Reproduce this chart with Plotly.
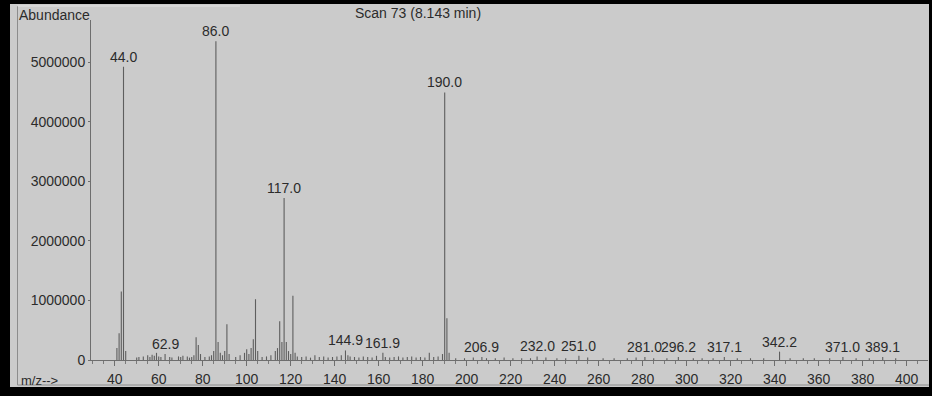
import plotly.graph_objects as go

# ---- data ----
labeled_mz = [44.0, 62.9, 86.0, 117.0, 144.9, 161.9, 190.0, 206.9, 232.0, 251.0,
              281.0, 296.2, 317.1, 342.2, 371.0, 389.1]
labeled_abund = [4920000, 100000, 5350000, 2720000, 160000, 120000, 4490000, 50000, 60000, 70000,
                 50000, 50000, 50000, 140000, 50000, 50000]
labeled_text = ["44.0", "62.9", "86.0", "117.0", "144.9", "161.9", "190.0", "206.9", "232.0", "251.0",
                "281.0", "296.2", "317.1", "342.2", "371.0", "389.1"]

minor_mz = [41, 42, 43, 45, 50, 51, 53, 55, 56, 57, 58, 59, 60, 61, 65, 66, 69, 70, 71, 73, 74, 75, 76,
            77, 78, 79, 81, 83, 84, 85, 87, 88, 89, 90, 91, 92, 95, 97, 99, 100, 101, 102, 103, 104,
            105, 107, 109, 111, 113, 114, 115, 116, 118, 119, 120, 121, 122, 123, 125, 127, 129, 131,
            133, 135, 137, 139, 141, 143, 146, 147, 149, 151, 153, 155, 157, 159, 163, 165, 167, 169,
            171, 173, 175, 177, 179, 181, 183, 185, 187, 189, 191, 192, 195, 199, 203, 209, 213, 217,
            221, 225, 229, 236, 241, 245, 255, 262, 267, 273, 277, 285, 291, 303, 307, 312, 323, 329,
            335, 347, 353, 358, 365, 377, 383, 395]
minor_abund = [200000, 450000, 1150000, 150000, 40000, 50000, 60000, 80000, 50000, 90000, 70000, 120000,
               60000, 50000, 50000, 40000, 60000, 50000, 70000, 60000, 40000, 50000, 80000,
               380000, 250000, 100000, 50000, 60000, 80000, 150000, 300000, 120000, 80000, 150000,
               600000, 100000, 50000, 80000, 120000, 180000, 100000, 200000, 350000, 1020000,
               150000, 50000, 60000, 80000, 150000, 200000, 650000, 300000, 300000, 150000, 100000,
               1080000, 120000, 60000, 50000, 60000, 40000, 80000, 50000, 60000, 40000, 50000, 60000,
               80000, 80000, 60000, 50000, 40000, 60000, 50000, 40000, 70000, 50000, 40000, 50000,
               60000, 40000, 50000, 60000, 40000, 50000, 40000, 120000, 50000, 60000, 100000,
               700000, 120000, 30000, 30000, 40000, 30000, 30000, 40000, 30000, 30000, 30000, 40000,
               30000, 30000, 40000, 30000, 30000, 30000, 40000, 30000, 30000, 30000, 30000, 30000,
               30000, 30000, 30000, 30000, 30000, 30000, 30000, 30000, 30000, 30000]

x_ticks = list(range(40, 401, 20))
y_ticks = [0, 1000000, 2000000, 3000000, 4000000, 5000000]

title_text = "Scan 73 (8.143 min)"
y_title = "Abundance"
x_title = "m/z-->"

# ---- build sticks ----
all_mz = labeled_mz + minor_mz
all_ab = labeled_abund + minor_abund
xs, ys = [], []
for m, a in zip(all_mz, all_ab):
    xs += [m, m, None]
    ys += [0, a, None]

BG = "#cbcbcb"
TXT = "#2b2b2b"
FONT = "Liberation Sans, Arial, sans-serif"

fig = go.Figure()
fig.add_trace(go.Scatter(x=xs, y=ys, mode="lines",
                         line=dict(color="#5e5e5e", width=1.1),
                         hoverinfo="skip", showlegend=False))

W, H = 932, 396
ML, MR, MT, MB = 91, 4, 20, 36
PW, PH = W - ML - MR, H - MT - MB


def px(xp):
    return (xp - ML) / PW


def py(yp):
    return (H - MB - yp) / PH


annotations = []
for m, a, t in zip(labeled_mz, labeled_abund, labeled_text):
    annotations.append(dict(x=m, y=a, xref="x", yref="y", text=t, showarrow=False,
                            yanchor="bottom", yshift=0,
                            font=dict(family=FONT, size=14, color=TXT)))
annotations.append(dict(x=px(17), y=py(15), xref="paper", yref="paper", text=y_title,
                        showarrow=False, xanchor="left", yanchor="middle",
                        font=dict(family=FONT, size=14, color=TXT)))
annotations.append(dict(x=px(19), y=py(380), xref="paper", yref="paper", text=x_title,
                        showarrow=False, xanchor="left", yanchor="middle",
                        font=dict(family=FONT, size=13, color=TXT)))
annotations.append(dict(x=px(418), y=py(13), xref="paper", yref="paper", text=title_text,
                        showarrow=False, xanchor="center", yanchor="middle",
                        font=dict(family=FONT, size=14, color=TXT)))

shapes = [
    dict(type="rect", xref="paper", yref="paper", x0=px(10), x1=px(929), y0=py(4), y1=py(387),
         fillcolor=BG, line=dict(width=0), layer="below"),
    dict(type="line", xref="paper", yref="paper", x0=px(17.5), x1=px(17.5), y0=py(6), y1=py(385),
         line=dict(color="#8c8c8c", width=1), layer="below"),
    dict(type="line", xref="paper", yref="paper", x0=px(17.5), x1=px(929), y0=py(385), y1=py(385),
         line=dict(color="#8c8c8c", width=1), layer="below"),
    dict(type="line", xref="paper", yref="paper", x0=px(17.5), x1=px(240), y0=py(6), y1=py(6),
         line=dict(color="#e2e2e2", width=1), layer="below"),
]

x_min = 40 - (114.7 - ML) / 2.2
x_max = x_min + PW / 2.2
y_max = PH / 59.6 * 1e6

fig.update_layout(
    width=W, height=H,
    margin=dict(l=ML, r=MR, t=MT, b=MB, pad=0),
    paper_bgcolor="black", plot_bgcolor=BG,
    font=dict(family=FONT, size=13, color=TXT),
    xaxis=dict(range=[x_min, x_max], tickvals=x_ticks, ticktext=[str(v) for v in x_ticks],
               showgrid=False, zeroline=False, showline=True, linecolor="#6e6e6e", linewidth=1,
               ticks="outside", ticklen=5, tickcolor="#6e6e6e", tickwidth=1,
               ticklabelstandoff=1,
               minor=dict(dtick=5, tick0=0, ticks="outside", ticklen=3, tickcolor="#7a7a7a", showgrid=False),
               tickfont=dict(family=FONT, size=14, color=TXT), fixedrange=True),
    yaxis=dict(range=[0, y_max], tickvals=y_ticks, ticktext=[str(v) for v in y_ticks],
               showgrid=False, zeroline=False, showline=True, linecolor="#6e6e6e", linewidth=1,
               ticks="outside", ticklen=2, tickcolor="#6e6e6e",
               tickfont=dict(family=FONT, size=14, color=TXT), fixedrange=True),
    annotations=annotations,
    shapes=shapes,
)

fig.write_html("out.html")
